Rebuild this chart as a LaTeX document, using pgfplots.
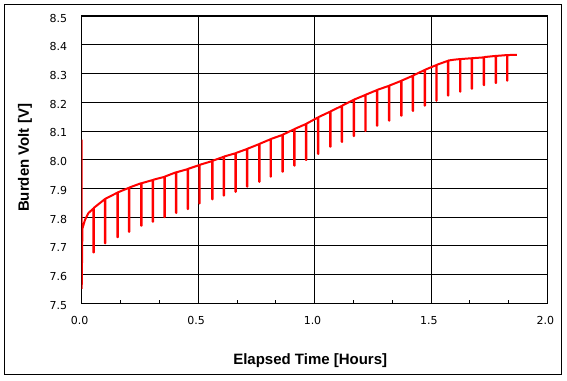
\documentclass[border=0pt]{standalone}
\usepackage{pgfplots}
\pgfplotsset{compat=1.18}
\usepackage{fontspec}
\setmainfont{Liberation Sans}
\newfontfamily\tickfont{DejaVu Sans}
\begin{document}
\begin{tikzpicture}[x=1pt,y=1pt]
\useasboundingbox (-81.7,-76.7) rectangle (485.3,303.3);
\draw[line width=1pt] (-76.7,-70.7) rectangle (479.3,298.3);
\begin{axis}[
  at={(0,0)}, anchor=south west,
  scale only axis, width=465.6pt, height=287.3pt,
  xmin=0, xmax=2, ymin=7.5, ymax=8.5,
  xtick={0,0.5,1,1.5,2},
  minor x tick num=2,
  ytick={7.5,7.6,7.7,7.8,7.9,8.0,8.1,8.2,8.3,8.4,8.5},
  grid=major,
  major grid style={black, line width=0.8pt},
  axis line style={black, line width=1pt},
  tick style={black, line width=0.8pt},
  xtick pos=bottom, ytick pos=left,
  major tick length=3.5pt, minor tick length=3.5pt,
  tick align=inside,
  /pgf/number format/assume math mode=true,
  /pgf/number format/.cd, fixed, fixed zerofill, precision=1, /pgfplots/.cd,
  ticklabel style={font=\tickfont\fontsize{11}{13}\selectfont},
  xticklabel style={yshift=-10pt, xshift=-2pt},
  yticklabel style={xshift=-11pt, yshift=-2pt},
  xlabel={Elapsed Time [Hours]},
  ylabel={Burden Volt [V]},
  label style={font=\fontsize{15}{17}\selectfont\bfseries},
  x label style={at={(axis description cs:0.4908,-0.2008)}, anchor=center},
  y label style={at={(axis description cs:-0.1218,0.506)}, anchor=center},
  clip=true,
]
\addplot[red, line width=2pt, line join=bevel, line cap=butt] coordinates {
(0,8.07)(0,7.55)(0.003,7.76)(0.014,7.79)(0.029,7.814)
(0.05,7.830)(0.05,7.677)(0.052,7.677)(0.052,7.832)
(0.10,7.863)(0.10,7.709)(0.102,7.709)(0.102,7.864)
(0.153,7.885)(0.153,7.730)(0.155,7.730)(0.155,7.886)
(0.203,7.902)(0.203,7.749)(0.205,7.749)(0.205,7.903)
(0.255,7.918)(0.255,7.770)(0.257,7.770)(0.257,7.918)
(0.305,7.929)(0.305,7.784)(0.307,7.784)(0.307,7.930)
(0.355,7.940)(0.355,7.800)(0.357,7.800)(0.357,7.941)
(0.405,7.956)(0.405,7.815)(0.407,7.815)(0.407,7.956)
(0.455,7.967)(0.455,7.828)(0.457,7.828)(0.457,7.968)
(0.505,7.981)(0.505,7.848)(0.507,7.848)(0.507,7.982)
(0.56,7.995)(0.56,7.862)(0.562,7.862)(0.562,7.996)
(0.61,8.010)(0.61,7.875)(0.612,7.875)(0.612,8.011)
(0.66,8.022)(0.66,7.888)(0.662,7.888)(0.662,8.023)
(0.71,8.037)(0.71,7.906)(0.712,7.906)(0.712,8.038)
(0.762,8.054)(0.762,7.923)(0.764,7.923)(0.764,8.055)
(0.811,8.071)(0.811,7.941)(0.813,7.941)(0.813,8.072)
(0.862,8.086)(0.862,7.958)(0.864,7.958)(0.864,8.087)
(0.913,8.106)(0.913,7.979)(0.915,7.979)(0.915,8.107)
(0.963,8.124)(0.963,7.999)(0.965,7.999)(0.965,8.125)
(1.015,8.147)(1.015,8.020)(1.017,8.020)(1.017,8.148)
(1.067,8.167)(1.067,8.045)(1.069,8.045)(1.069,8.168)
(1.117,8.187)(1.117,8.062)(1.119,8.062)(1.119,8.188)
(1.168,8.208)(1.168,8.082)(1.170,8.082)(1.170,8.209)
(1.218,8.225)(1.218,8.100)(1.220,8.100)(1.220,8.226)
(1.268,8.242)(1.268,8.118)(1.270,8.118)(1.270,8.243)
(1.32,8.257)(1.32,8.136)(1.322,8.136)(1.322,8.258)
(1.372,8.274)(1.372,8.153)(1.374,8.153)(1.374,8.275)
(1.422,8.292)(1.422,8.170)(1.424,8.170)(1.424,8.293)
(1.473,8.312)(1.473,8.188)(1.475,8.188)(1.475,8.313)
(1.523,8.329)(1.523,8.205)(1.525,8.205)(1.525,8.330)
(1.573,8.344)(1.573,8.223)(1.575,8.223)(1.575,8.345)
(1.600,8.348)
(1.625,8.350)(1.625,8.237)(1.627,8.237)(1.627,8.350)
(1.675,8.353)(1.675,8.247)(1.677,8.247)(1.677,8.353)
(1.727,8.356)(1.727,8.259)(1.729,8.259)(1.729,8.357)
(1.778,8.361)(1.778,8.267)(1.780,8.267)(1.780,8.361)
(1.827,8.364)(1.827,8.275)(1.829,8.275)(1.829,8.364)
(1.869,8.365)
};
\end{axis}
\end{tikzpicture}
\end{document}
